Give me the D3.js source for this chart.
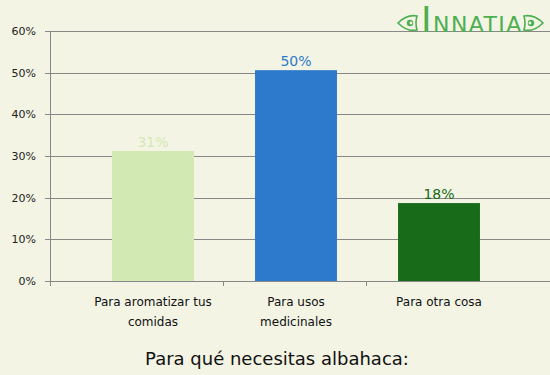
<!DOCTYPE html>
<html>
<head>
<meta charset="utf-8">
<script src="https://cdn.jsdelivr.net/npm/d3@7"></script>
<style>
  body { margin: 0; background: #f3f4e4; }
  svg { display: block; font-family: "DejaVu Sans", Verdana, sans-serif; }
</style>
</head>
<body>
<script>
// chart data
var categories = ["aromatizar", "medicinales", "otra"];
var tickLabels = [["Para aromatizar tus", "comidas"], ["Para usos", "medicinales"], ["Para otra cosa"]];
var values = [31.2, 50.6, 18.7];
var barColors = ["#d3e9b4", "#2d79cc", "#186b18"];
var yTicks = [0, 10, 20, 30, 40, 50, 60];
var title = "Para qué necesitas albahaca:";

var svgWidth = 550;
var svgHeight = 375;

var margin = { top: 31, right: 0, bottom: 94, left: 50 };
var chartwidth = svgWidth - margin.left - margin.right;
var chartheight = svgHeight - margin.top - margin.bottom;

var svg = d3.select("body")
  .append("svg")
  .attr("width", svgWidth)
  .attr("height", svgHeight);

svg.append("rect")
  .attr("width", svgWidth)
  .attr("height", svgHeight)
  .attr("fill", "#f3f4e4");

var chartGroup = svg.append("g")
  .attr("transform", `translate(${margin.left}, ${margin.top})`);

// scales
var xBandScale = d3.scaleBand()
  .domain(categories)
  .range([31.5, 460.5])
  .paddingInner(0.427)
  .paddingOuter(0.2135);

var yLinearScale = d3.scaleLinear()
  .domain([0, 60])
  .range([chartheight, 0]);

// gridlines
chartGroup.append("g")
  .selectAll("line")
  .data(yTicks)
  .enter()
  .append("line")
  .attr("x1", -5)
  .attr("x2", chartwidth)
  .attr("y1", d => Math.round(yLinearScale(d)) + 0.5)
  .attr("y2", d => Math.round(yLinearScale(d)) + 0.5)
  .attr("stroke", "#888")
  .attr("stroke-width", 1);

// y axis labels
chartGroup.append("g")
  .selectAll("text")
  .data(yTicks)
  .enter()
  .append("text")
  .attr("x", -14)
  .attr("y", d => yLinearScale(d))
  .attr("dy", "0.36em")
  .attr("text-anchor", "end")
  .attr("font-size", 11)
  .attr("fill", "#222")
  .text(d => d + "%");

// y axis line
chartGroup.append("line")
  .attr("x1", 0.5)
  .attr("x2", 0.5)
  .attr("y1", 0)
  .attr("y2", chartheight + 4)
  .attr("stroke", "#888");

// category separators on the x axis
var step = xBandScale.step();
var sepX = [0].concat(categories.slice(1).map(c => xBandScale(c) - step * xBandScale.paddingInner() / 2 - 1.5));
chartGroup.append("g")
  .selectAll("line")
  .data(sepX)
  .enter()
  .append("line")
  .attr("x1", d => Math.round(d) + 0.5)
  .attr("x2", d => Math.round(d) + 0.5)
  .attr("y1", chartheight)
  .attr("y2", chartheight + 5)
  .attr("stroke", "#888");

// bars
chartGroup.append("g")
  .selectAll("rect")
  .data(values)
  .enter()
  .append("rect")
  .attr("x", (d, i) => xBandScale(categories[i]))
  .attr("y", d => yLinearScale(d))
  .attr("width", xBandScale.bandwidth())
  .attr("height", d => chartheight - yLinearScale(d))
  .attr("fill", (d, i) => barColors[i]);

// value labels
chartGroup.append("g")
  .selectAll("text")
  .data(values)
  .enter()
  .append("text")
  .attr("x", (d, i) => xBandScale(categories[i]) + xBandScale.bandwidth() / 2)
  .attr("y", d => yLinearScale(d) - 4)
  .attr("text-anchor", "middle")
  .attr("font-size", 14)
  .attr("fill", (d, i) => barColors[i])
  .text(d => Math.floor(d) + "%");

// x tick labels
var xLabels = chartGroup.append("g")
  .selectAll("text")
  .data(tickLabels)
  .enter()
  .append("text")
  .attr("text-anchor", "middle")
  .attr("font-size", 12)
  .attr("fill", "#111")
  .attr("transform", (d, i) => `translate(${xBandScale(categories[i]) + xBandScale.bandwidth() / 2}, ${chartheight + 25})`);

xLabels.selectAll("tspan")
  .data(d => d)
  .enter()
  .append("tspan")
  .attr("x", 0)
  .attr("y", (d, j) => j * 20)
  .text(d => d);

// title
svg.append("text")
  .attr("x", 277)
  .attr("y", 365)
  .attr("text-anchor", "middle")
  .attr("font-size", 18)
  .attr("fill", "#111")
  .text(title);

// logo
var logo = svg.append("g")
  .attr("transform", "translate(397, 0)")
  .attr("fill", "none")
  .attr("stroke", "#4caf50")
  .attr("stroke-width", 1.6);

// left and right leaves
[[10, 0], [137, 1]].forEach(function(p) {
  var g = logo.append("g").attr("transform", `translate(${p[0]}, 23)` + (p[1] ? " scale(-1,1)" : ""));
  g.append("path").attr("d", "M-9,0 Q0,-9 10,-7 Q8,0 10,7 Q0,9 -9,0 Z");
  g.append("circle").attr("cx", 3).attr("cy", 0).attr("r", 3.2).attr("fill", "#4caf50").attr("stroke", "none");
  g.append("circle").attr("cx", 4).attr("cy", 0).attr("r", 1.4).attr("fill", "#f3f4e4").attr("stroke", "none");
});

svg.append("text")
  .attr("x", 421)
  .attr("y", 32)
  .attr("font-family", "DejaVu Sans, sans-serif")
  .attr("fill", "#4caf50")
  .attr("font-size", 22)
  .attr("letter-spacing", 1.4)
  .html('<tspan font-size="36">I</tspan>NNATIA');
</script>
</body>
</html>
